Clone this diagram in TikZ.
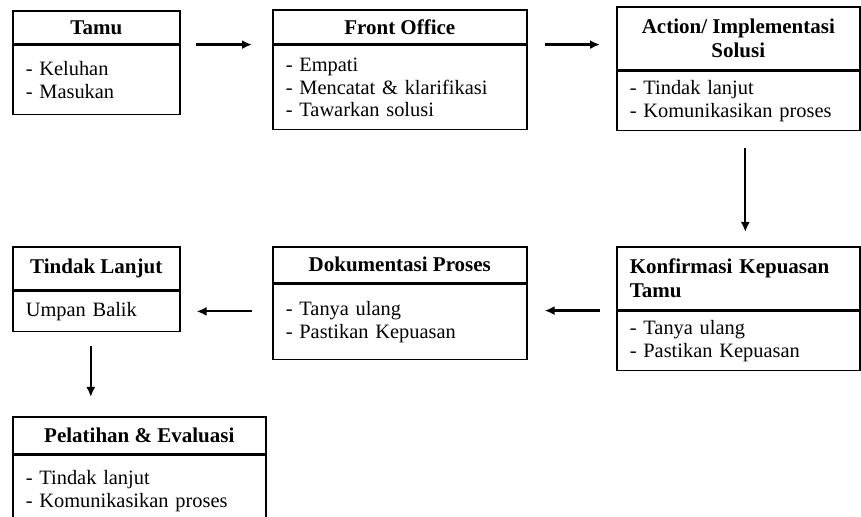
\documentclass[tikz,border=0pt]{standalone}
\usepackage{fontspec}
\setmainfont{Liberation Serif}
\usetikzlibrary{arrows.meta}

\begin{document}
\begin{tikzpicture}[x=0.5pt,y=-0.5pt,
    font=\fontsize{10.2}{11.4}\selectfont,
    head/.style={draw,line width=0.8pt,anchor=north west,inner sep=0pt,align=center,
        font=\fontsize{10.5}{12}\selectfont\bfseries},
    body/.style={draw,line width=0.8pt,anchor=north west,inner xsep=6.5pt,inner ysep=0pt,align=left},
    arr/.style={-{Latex[length=5pt,width=4.5pt]},line width=1.1pt}]
            \useasboundingbox (0,0) rectangle (861,517);
            % top row
            \node[head,minimum width=83.5pt,minimum height=16.5pt] (tamu) at (12,10) {Tamu};
            \node[body,text width=70.5pt,minimum height=34.5pt] (tamub) at (tamu.south west) {- Keluhan\\- Masukan};
            \node[head,minimum width=127pt,minimum height=17pt] (fo) at (272,9) {Front Office};
            \node[body,text width=114pt,minimum height=42pt] (fob) at (fo.south west) {- Empati\\- Mencatat \& klarifikasi\\- Tawarkan solusi};
            \node[head,minimum width=121.5pt,minimum height=31.5pt] (act) at (616,6) {Action/ Implementasi\\Solusi};
            \node[body,text width=108.5pt,minimum height=29.5pt] (actb) at (act.south west) {- Tindak lanjut\\- Komunikasikan proses};
            % middle row
            \node[head,minimum width=121.5pt,minimum height=31.5pt,text width=108.5pt,inner xsep=6.5pt,align=left] (konf) at (616,246) {Konfirmasi Kepuasan\\Tamu};
            \node[body,text width=108.5pt,minimum height=29.5pt] (konfb) at (konf.south west) {- Tanya ulang\\- Pastikan Kepuasan};
            \node[head,minimum width=127pt,minimum height=18pt] (dok) at (272,246) {Dokumentasi Proses};
            \node[body,text width=114pt,minimum height=37.5pt] (dokb) at (dok.south west) {- Tanya ulang\\- Pastikan Kepuasan};
            \node[head,minimum width=83.5pt,minimum height=21.5pt] (tl) at (12,246) {Tindak Lanjut};
            \node[body,text width=70.5pt,minimum height=20pt] (tlb) at (tl.south west) {Umpan Balik};
            % bottom
            \node[head,minimum width=126.5pt,minimum height=18.5pt] (pel) at (12,416) {Pelatihan \& Evaluasi};
            \node[body,text width=113.5pt,minimum height=36pt] (pelb) at (pel.south west) {- Tindak lanjut\\- Komunikasikan proses};
            % arrows
            \draw (tamu.south east) edge [arr,shorten <=7.5pt,shorten >=10pt] (fo.south west);
            \draw (fo.south east) edge [arr,shorten <=8.5pt,shorten >=8pt] (fo.south east -| act.west);
            \draw ([xshift=3.5pt]actb.south) edge [arr,shorten <=8.5pt,shorten >=7pt] ([xshift=3.5pt]actb.south |- konf.north);
            \draw (konf.south west) edge [arr,shorten <=8pt,shorten >=8.5pt] (konf.south west -| dok.east);
            \draw (tlb.east -| dokb.west) edge [arr,shorten <=10pt,shorten >=8pt] (tlb.east);
            \draw ([xshift=-2.75pt]tlb.south) edge [arr,shorten <=7pt,shorten >=9.5pt] ([xshift=-2.75pt]tlb.south |- pel.north);
        \end{tikzpicture}
\end{document}
